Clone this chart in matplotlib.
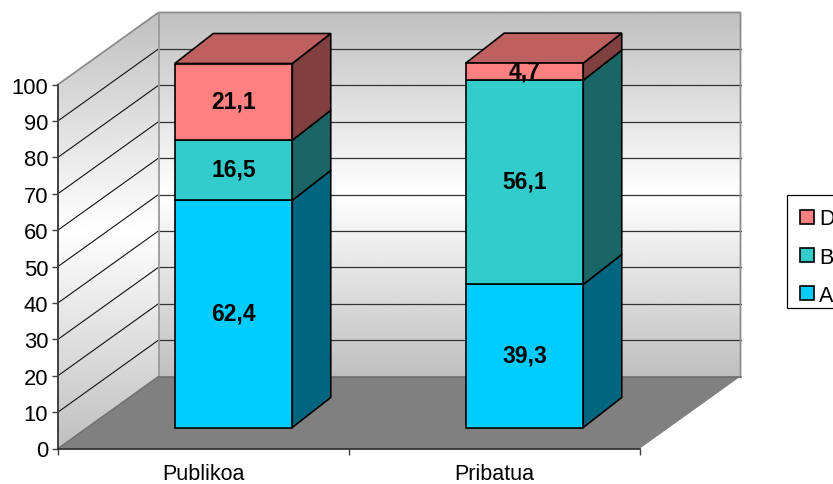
import numpy as np
import matplotlib
matplotlib.use('Agg')
import matplotlib.pyplot as plt
from matplotlib.patches import Patch, Polygon, Rectangle

plt.rcParams['font.family'] = ['Liberation Sans', 'DejaVu Sans']

categories = ['Publikoa', 'Pribatua']
series_names = ['A', 'B', 'D']
values_a = [62.4, 39.3]
values_b = [16.5, 56.1]
values_d = [21.1, 4.7]
y_ticks = [0, 10, 20, 30, 40, 50, 60, 70, 80, 90, 100]

# colours: front, side
front_colors = ['#00CCFF', '#33CCCC', '#FF8080']
side_colors = ['#006680', '#1A6666', '#804040']
top_color = '#BF6060'

# fake 3D depth, in data units (1 category = 291 px, 1 y unit = 3.64 px)
wall_dx = 100.5 / 291
wall_dy = 72 / 3.64
bar_shift_x = 30 / 291
bar_shift_y = 21 / 3.64
bar_dx = 38.5 / 291
bar_dy = 30 / 3.64
bar_width = 117.5 / 291

fig = plt.figure(figsize=(8.33, 4.85), dpi=100)
ax = fig.add_axes([58 / 833, 35.5 / 485, 582 / 833, 364 / 485])

# walls with grey-white-grey gradient
gradient = np.abs(np.linspace(-1, 1, 256)).reshape(-1, 1)
gradient = 1 - gradient * 0.25


def wall(points, y0, y1):
    xs = [p[0] for p in points]
    im = ax.imshow(gradient, cmap='gray', vmin=0, vmax=1, aspect='auto', origin='lower',
                   extent=[min(xs), max(xs), y0, y1], interpolation='bilinear', zorder=1)
    poly = Polygon(points, closed=True, transform=ax.transData)
    im.set_clip_box(fig.bbox)
    im.set_clip_path(poly)


wall([(0, 0), (wall_dx, wall_dy), (wall_dx, 100 + wall_dy), (0, 100)], 0, 100 + wall_dy)
wall([(wall_dx, wall_dy), (2 + wall_dx, wall_dy), (2 + wall_dx, 100 + wall_dy), (wall_dx, 100 + wall_dy)],
     wall_dy, 100 + wall_dy)

# floor
ax.fill([0, 2, 2 + wall_dx, wall_dx], [0, 0, wall_dy, wall_dy], color='#808080', lw=0, zorder=2, clip_on=False)

# gridlines
for v in y_ticks[1:-1]:
    ax.plot([0, wall_dx], [v, v + wall_dy], color='#111111', lw=0.8, zorder=3, clip_on=False)
    ax.plot([wall_dx, 2 + wall_dx], [v + wall_dy, v + wall_dy], color='#333333', lw=0.9, zorder=3, clip_on=False)

# wall edges
ax.plot([0, wall_dx, 2 + wall_dx, 2 + wall_dx], [100, 100 + wall_dy, 100 + wall_dy, wall_dy],
        color='#8C8C8C', lw=1.3, zorder=3, clip_on=False)
ax.plot([wall_dx, wall_dx], [wall_dy, 100 + wall_dy], color='#999999', lw=1.3, zorder=3, clip_on=False)
ax.plot([0, wall_dx], [0, wall_dy], color='#6E6E6E', lw=1, zorder=3, clip_on=False)
ax.plot([wall_dx, 2 + wall_dx], [wall_dy, wall_dy], color='#6E6E6E', lw=1.2, zorder=3, clip_on=False)

# stacked bars
x_left = [i + 0.5 + bar_shift_x - bar_width / 2 for i in range(len(categories))]
x_mid = [x + bar_width / 2 for x in x_left]
bottoms = [0.0, 0.0]
for name, vals, fc, sc in zip(series_names, [values_a, values_b, values_d], front_colors, side_colors):
    ax.bar(x_mid, vals, bar_width, bottom=[b + bar_shift_y for b in bottoms], color=fc,
           edgecolor='black', lw=1.2, zorder=5, clip_on=False)
    for i, v in enumerate(vals):
        x1 = x_left[i] + bar_width
        y0 = bottoms[i] + bar_shift_y
        ax.fill([x1, x1 + bar_dx, x1 + bar_dx, x1], [y0, y0 + bar_dy, y0 + v + bar_dy, y0 + v],
                facecolor=sc, edgecolor='black', lw=1.2, zorder=4, clip_on=False)
        ax.text(x_mid[i], y0 + v / 2 + 0.3, f'{v:.1f}'.replace('.', ','), ha='center', va='center',
                fontsize=16.5, fontweight='bold', color='black', zorder=7)
    bottoms = [b + v for b, v in zip(bottoms, vals)]

# top faces
for i, t in enumerate(bottoms):
    x0 = x_left[i]
    y0 = t + bar_shift_y
    ax.fill([x0, x0 + bar_width, x0 + bar_width + bar_dx, x0 + bar_dx], [y0, y0, y0 + bar_dy, y0 + bar_dy],
            facecolor=top_color, edgecolor='black', lw=1.2, zorder=4, clip_on=False)

ax.set_xlim(0, 2)
ax.set_ylim(0, 100)
ax.patch.set_visible(False)
for s in ['top', 'right']:
    ax.spines[s].set_visible(False)
ax.spines['left'].set_color('#404040')
ax.spines['left'].set_linewidth(1.4)
ax.spines['bottom'].set_color('#222222')
ax.spines['bottom'].set_linewidth(1.2)
ax.spines['left'].set_zorder(6)
ax.spines['bottom'].set_zorder(6)

ax.set_yticks(y_ticks)
ax.tick_params(axis='y', labelsize=15.8, length=4.5, width=1, color='#404040', pad=2.5)
ax.set_xticks([0, 1, 2])
ax.set_xticklabels([])
ax.set_xticks([0.5, 1.5], minor=True)
ax.set_xticklabels(categories, minor=True)
ax.tick_params(axis='x', which='major', length=4.5, width=1, color='#404040')
ax.tick_params(axis='x', which='minor', length=0, labelsize=15.5, pad=10.5)

# legend box runs off the right edge, like the original
fig.add_artist(Rectangle((787 / 833, 1 - 309 / 485), 60 / 833, 113 / 485, transform=fig.transFigure,
                         facecolor='white', edgecolor='black', lw=0.9, zorder=1))
handles = [Patch(facecolor=c, edgecolor='black', lw=1.2) for c in front_colors[::-1]]
leg = fig.legend(handles, series_names[::-1], loc='upper left', bbox_to_anchor=(787 / 833, 1 - 196 / 485),
                 bbox_transform=fig.transFigure, fontsize=15.5, frameon=False,
                 handlelength=0.65, handleheight=0.65, handletextpad=0.22, labelspacing=0.8, borderpad=0.62,
                 borderaxespad=0)
leg.set_zorder(2)

fig.savefig('out.png', dpi=100)
